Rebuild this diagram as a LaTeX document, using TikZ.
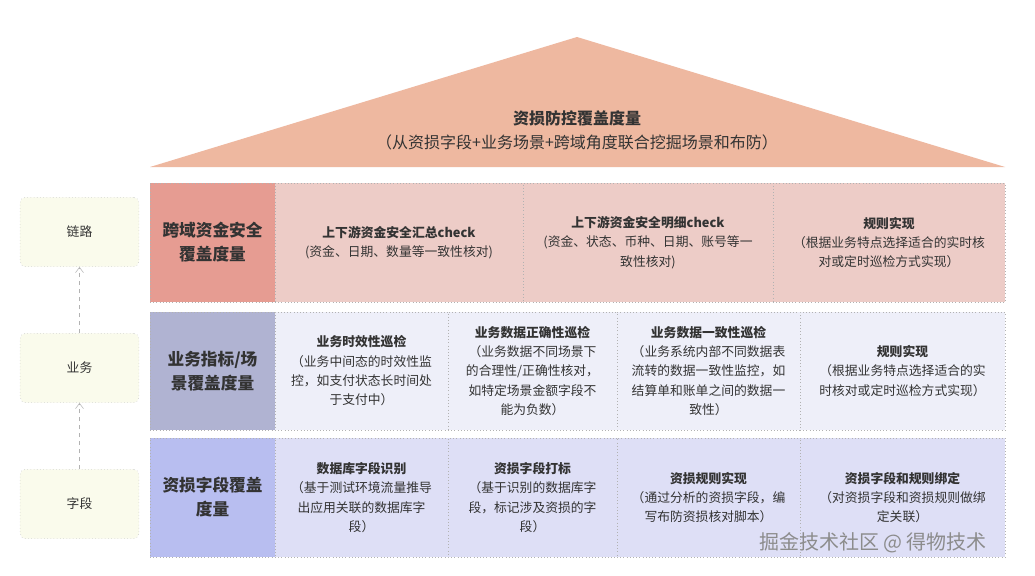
\documentclass[tikz,border=0pt]{standalone}
\usepackage{fontspec}
\setmainfont{Noto Sans CJK SC}
\usetikzlibrary{arrows.meta}
\definecolor{roof}{HTML}{EEB8A0}
\definecolor{hA}{HTML}{E69C92}
\definecolor{cA}{HTML}{EDCCC7}
\definecolor{hB}{HTML}{B0B3D2}
\definecolor{cB}{HTML}{EEEFF9}
\definecolor{hC}{HTML}{B8BEF0}
\definecolor{cC}{HTML}{DEDFF6}
\definecolor{lbox}{HTML}{FAFBEC}
\definecolor{txt}{HTML}{333333}
\tikzset{
  base/.style={draw=black!30, dotted, inner sep=0pt, align=center, text=txt},
  cell/.style={base, font=\fontsize{9.6}{14.5}\selectfont},
  head/.style={base, font=\fontsize{12.5}{18}\selectfont\bfseries},
  side/.style={draw=black!25, dotted, fill=lbox, rounded corners=4pt, minimum width=89pt, minimum height=52pt, font=\fontsize{9.6}{12}\selectfont, text=txt},
  up/.style={draw=black!30, dashed, -{Straight Barb[length=4pt,width=6pt]}}
}
\begin{document}
\begin{tikzpicture}[x=0.75pt,y=-0.75pt]
\useasboundingbox (0,0) rectangle (1035,575);
\fill[white] (0,0) rectangle (1035,575);
% roof
\fill[roof] (150,167) -- (577,37) -- (1005,167) -- cycle;
\node[font=\fontsize{12}{18}\selectfont, text=txt, align=center] (roofT) at (577,130) {\textbf{资损防控覆盖度量}\\（从资损字段+业务场景+跨域角度联合挖掘场景和布防）};
% left column
\node[side] (s1) at (79.5,232) {链路};
\node[side] (s2) at (79.5,368) {业务};
\node[side] (s3) at (79.5,504) {字段};
\draw[up] (s3) -- (s2);
\draw[up] (s2) -- (s1);
% row 1
\node[head, fill=hA, minimum width=93.75pt, minimum height=89.25pt, text width=88pt] (h1) at (212.5,242.5) {跨域资金安全\\覆盖度量};
\node[cell, fill=cA, minimum width=186pt, minimum height=89.25pt, text width=172pt] (a1) at (399,242.5) {\textbf{上下游资金安全汇总check}\\(资金、日期、数量等一致性核对)};
\node[cell, fill=cA, minimum width=187.5pt, minimum height=89.25pt, text width=175pt] (a2) at (648,242.5) {\textbf{上下游资金安全明细check}\\(资金、状态、币种、日期、账号等一\\致性核对)};
\node[cell, fill=cA, minimum width=174pt, minimum height=89.25pt, text width=162pt] (a3) at (889,242.5) {\textbf{规则实现}\\（根据业务特点选择适合的实时核\\对或定时巡检方式实现）};
% row 2
\node[head, fill=hB, minimum width=93.75pt, minimum height=88.5pt, text width=88pt] (h2) at (212.5,371) {业务指标/场\\景覆盖度量};
\node[cell, fill=cB, minimum width=129.75pt, minimum height=88.5pt, text width=122pt] (b1) at (361.5,371) {\textbf{业务时效性巡检}\\（业务中间态的时效性监\\控，如支付状态长时间处\\于支付中）};
\node[cell, fill=cB, minimum width=126.75pt, minimum height=88.5pt, text width=122pt] (b2) at (532.5,371) {\textbf{业务数据正确性巡检}\\（业务数据不同场景下\\的合理性/正确性核对，\\如特定场景金额字段不\\能为负数）};
\node[cell, fill=cB, minimum width=137.25pt, minimum height=88.5pt, text width=130pt] (b3) at (708.5,371) {\textbf{业务数据一致性巡检}\\（业务系统内部不同数据表\\流转的数据一致性监控，如\\结算单和账单之间的数据一\\致性）};
\node[cell, fill=cB, minimum width=153.75pt, minimum height=88.5pt, text width=140pt] (b4) at (902.5,371) {\textbf{规则实现}\\（根据业务特点选择适合的实\\时核对或定时巡检方式实现）};
% row 3
\node[head, fill=hC, minimum width=93.75pt, minimum height=89.25pt, text width=88pt] (h3) at (212.5,497.5) {资损字段覆盖\\度量};
\node[cell, fill=cC, minimum width=129.75pt, minimum height=89.25pt, text width=122pt] (c1) at (361.5,497.5) {\textbf{数据库字段识别}\\（基于测试环境流量推导\\出应用关联的数据库字\\段）};
\node[cell, fill=cC, minimum width=126.75pt, minimum height=89.25pt, text width=122pt] (c2) at (532.5,497.5) {\textbf{资损字段打标}\\（基于识别的数据库字\\段，标记涉及资损的字\\段）};
\node[cell, fill=cC, minimum width=137.25pt, minimum height=89.25pt, text width=130pt] (c3) at (708.5,497.5) {\textbf{资损规则实现}\\（通过分析的资损字段，编\\写布防资损核对脚本）};
\node[cell, fill=cC, minimum width=153.75pt, minimum height=89.25pt, text width=140pt] (c4) at (902.5,497.5) {\textbf{资损字段和规则绑定}\\（对资损字段和资损规则做绑\\定关联）};
% watermark
\node[font=\fontsize{15}{18}\selectfont, text=black!45, inner sep=0pt] (wm) at (873,543) {掘金技术社区 @ 得物技术};
\end{tikzpicture}
\end{document}
